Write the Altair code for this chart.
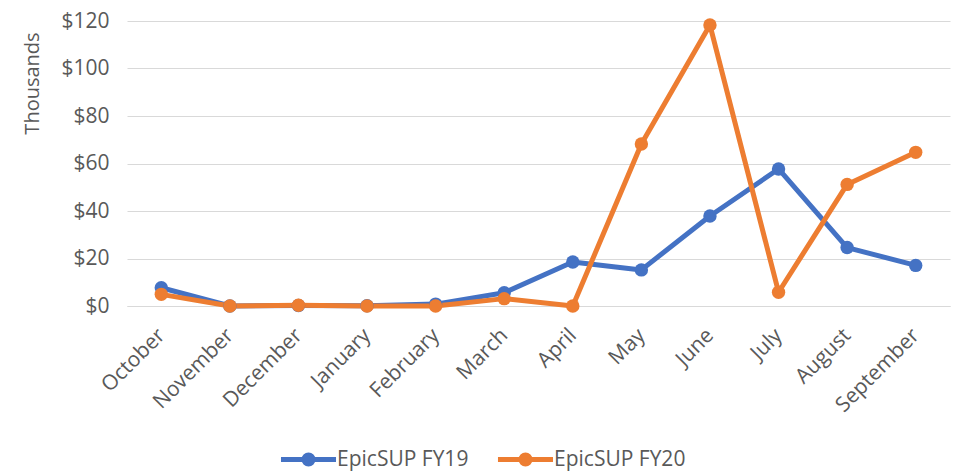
import altair as alt
import pandas as pd

months = ["October", "November", "December", "January", "February", "March",
          "April", "May", "June", "July", "August", "September"]
fy19 = [7.7, 0.0, 0.2, 0.1, 0.8, 5.6, 18.5, 15.2, 37.9, 57.7, 24.6, 17.1]
fy20 = [4.9, 0.0, 0.3, 0.0, 0.0, 3.1, 0.0, 68.2, 118.3, 5.8, 51.2, 64.7]
series_names = ["EpicSUP FY19", "EpicSUP FY20"]
colors = ["#4472C4", "#ED7D31"]
y_ticks = [0, 20, 40, 60, 80, 100, 120]

rows = []
for name, vals in zip(series_names, [fy19, fy20]):
    for m, v in zip(months, vals):
        rows.append({"month": m, "value": v, "series": name})
df = pd.DataFrame(rows)

FONT = "Open Sans"
GREY = "#595959"

legend_symbol = ("M -3.67 0 L 3.67 0 "
                 "M -0.6 0 A 0.6 0.6 0 1 0 0.6 0 A 0.6 0.6 0 1 0 -0.6 0")

x = alt.X("month:N", sort=months, title=None,
          scale=alt.Scale(type="point", padding=0.5),
          axis=alt.Axis(labelAngle=-45, labelAlign="right", labelBaseline="middle",
                        labelFontSize=21, labelFont=FONT, labelColor=GREY,
                        labelPadding=26, ticks=False, domain=True,
                        domainColor="#D9D9D9", domainWidth=1, grid=False))
y = alt.Y("value:Q", title="Thousands",
          scale=alt.Scale(domain=[0, 120], nice=False),
          axis=alt.Axis(values=y_ticks, labelExpr="'$' + datum.value",
                        labelFontSize=21, labelFont=FONT, labelColor=GREY,
                        labelPadding=18, ticks=False, domain=False,
                        grid=True, gridColor="#D9D9D9", gridWidth=1,
                        titleFont=FONT, titleFontSize=20, titleColor=GREY,
                        titleFontWeight="normal", titleAngle=-90,
                        titleAlign="center", titleBaseline="middle",
                        titleX=-95, titleY=62))
color = alt.Color("series:N", title=None,
                  scale=alt.Scale(domain=series_names, range=colors),
                  legend=alt.Legend(orient="none", direction="horizontal",
                                    legendX=171, legendY=428,
                                    symbolType=legend_symbol, symbolSize=225,
                                    symbolStrokeWidth=5, symbolFillColor=None,
                                    labelFontSize=21, labelFont=FONT,
                                    labelColor=GREY, labelOffset=18,
                                    columnPadding=18))

base = alt.Chart(df)
lines = base.mark_line(strokeWidth=5, strokeJoin="round").encode(x=x, y=y, color=color)
points = base.mark_point(filled=True, size=180, opacity=1).encode(x=x, y=y, color=color)

chart = alt.layer(lines, points).properties(
    width=823, height=285,
    autosize=alt.AutoSizeParams(type="none"),
    padding={"left": 119, "top": 13, "right": 4, "bottom": 168},
).configure(background="white").configure_view(strokeWidth=0, stroke="transparent")

chart.save("out.html", embed_options={"renderer": "svg", "actions": False})
